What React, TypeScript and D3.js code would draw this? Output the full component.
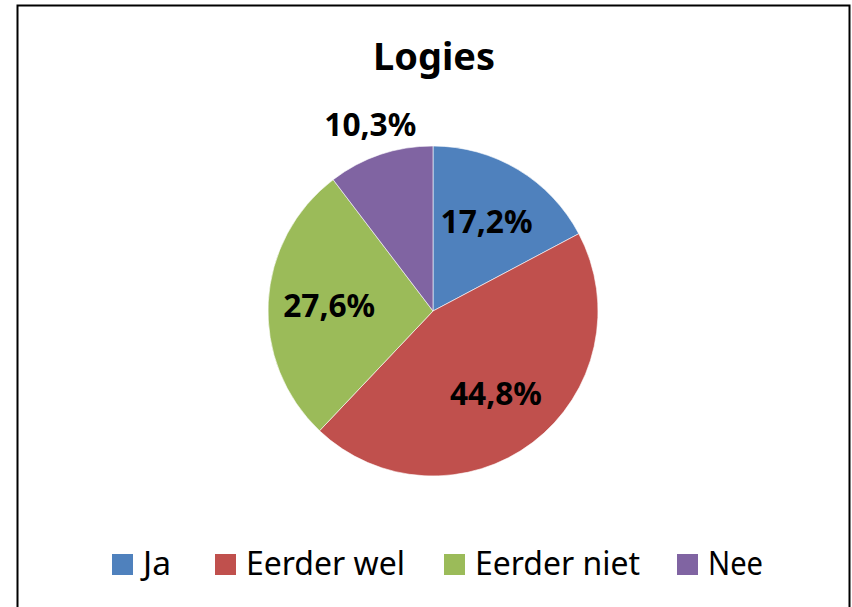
import React, { useEffect, useRef } from "react";
import * as d3 from "d3";

// chart data
const title = "Logies";
const categories = ["Ja", "Eerder wel", "Eerder niet", "Nee"];
const counts = [5, 13, 8, 3];
const colors = ["#4F81BD", "#C0504D", "#9BBB59", "#8064A2"];

// layout (its font is narrower than what we have)
const legendX = [112, 215, 444, 677];
const legendTextWidths = [28, 159, 165, 55];

const W = 852;
const H = 607;

const App = () => {
  const ref = useRef<SVGSVGElement>(null);

  useEffect(() => {
    const svg = d3.select(ref.current);
    svg.selectAll("*").remove();
    const font = "'Noto Sans', 'Open Sans', sans-serif";

    // outer frame
    svg
      .append("rect")
      .attr("x", 17.5)
      .attr("y", 5.5)
      .attr("width", 832)
      .attr("height", 620)
      .attr("fill", "#fff")
      .attr("stroke", "#000")
      .attr("stroke-width", 2);

    svg
      .append("text")
      .attr("x", 434)
      .attr("y", 70)
      .attr("text-anchor", "middle")
      .attr("font-family", font)
      .attr("font-weight", "bold")
      .attr("font-size", 38)
      .attr("textLength", 122)
      .attr("lengthAdjust", "spacingAndGlyphs")
      .text(title);

    const cx = 433,
      cy = 311,
      r = 165;
    const total = d3.sum(counts);

    const pie = d3
      .pie<number>()
      .sort(null)
      .value((d) => d);
    const arcs = pie(counts);

    const arc = d3.arc<d3.PieArcDatum<number>>().innerRadius(0).outerRadius(r);
    const labelArc = d3
      .arc<d3.PieArcDatum<number>>()
      .innerRadius(r * 0.63)
      .outerRadius(r * 0.63);
    const outerArc = d3
      .arc<d3.PieArcDatum<number>>()
      .innerRadius(r * 1.19)
      .outerRadius(r * 1.19);

    const g = svg.append("g").attr("transform", `translate(${cx},${cy})`);

    g.selectAll("path.slice")
      .data(arcs)
      .enter()
      .append("path")
      .attr("class", "slice")
      .attr("d", arc)
      .attr("fill", (d, i) => colors[i])
      .attr("stroke", "#fff")
      .attr("stroke-width", 0.6);

    const fmt = (v: number) =>
      ((v / total) * 100).toFixed(1).replace(".", ",") + "%";

    g.selectAll("text.lbl")
      .data(arcs)
      .enter()
      .append("text")
      .attr("class", "lbl")
      .attr("transform", (d) => {
        const small = d.value / total < 0.12;
        const [x, y] = small ? outerArc.centroid(d) : labelArc.centroid(d);
        return `translate(${x},${y})`;
      })
      .attr("text-anchor", "middle")
      .attr("dy", "0.36em")
      .attr("font-family", font)
      .attr("font-weight", "bold")
      .attr("font-size", 32)
      .attr("textLength", 92)
      .attr("lengthAdjust", "spacingAndGlyphs")
      .text((d) => fmt(d.value));

    // legend
    const sw = 21;
    const baseline = 575;
    const legend = svg.append("g");
    categories.forEach((c, i) => {
      legend
        .append("rect")
        .attr("x", legendX[i])
        .attr("y", baseline - sw)
        .attr("width", sw)
        .attr("height", sw)
        .attr("fill", colors[i]);
      legend
        .append("text")
        .attr("x", legendX[i] + sw + 10)
        .attr("y", baseline)
        .attr("font-family", font)
        .attr("font-size", 32)
        .attr("textLength", legendTextWidths[i])
        .attr("lengthAdjust", "spacingAndGlyphs")
        .text(c);
    });
  }, []);

  return (
    <svg
      ref={ref}
      width={W}
      height={H}
      style={{ position: "absolute", left: 0, top: 0, background: "#fff" }}
    />
  );
};

export default App;
